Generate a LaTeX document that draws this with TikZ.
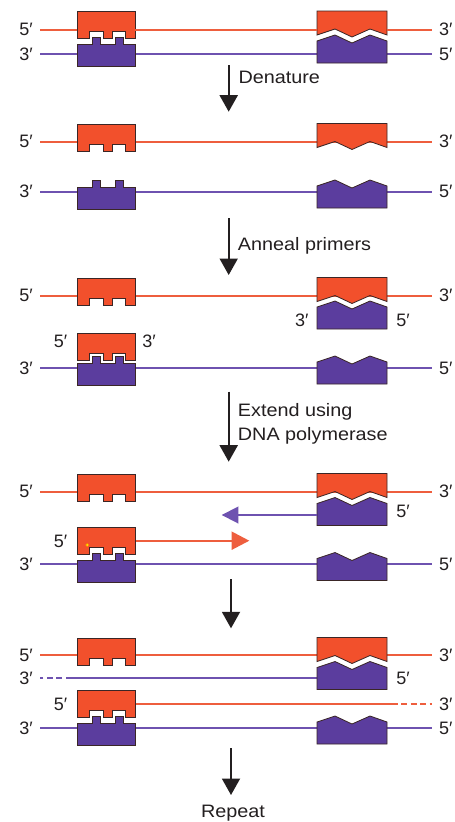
\documentclass[tikz,border=0pt]{standalone}
\usepackage{fontspec}
\setmainfont{Liberation Sans}
\usetikzlibrary{arrows.meta}
\definecolor{redf}{HTML}{F2502C}
\definecolor{purf}{HTML}{5B3D9E}
\definecolor{redl}{HTML}{EE5E3E}
\definecolor{purl}{HTML}{6E52B0}
\definecolor{edgec}{HTML}{3A2626}
\definecolor{txt}{HTML}{231F20}
\tikzset{
 blk/.style={draw=edgec, line width=0.8pt, line join=miter},
 rblk/.style={blk, fill=redf},
 pblk/.style={blk, fill=purf},
 rline/.style={draw=redl, line width=1.8pt},
 pline/.style={draw=purl, line width=1.8pt},
 dashline/.style={dash pattern=on 6pt off 3.5pt},
 lab/.style={inner sep=0pt, text=txt, font=\fontsize{18}{20}\selectfont},
 steptxt/.style={inner sep=0pt, text=txt, font=\fontsize{18}{24}\selectfont, xscale=1.1},
 flow/.style={draw=txt, line width=1.9pt, -{Triangle[width=18pt,length=16.5pt]}},
 redL/.pic={\path[rblk] (0,0) -- (58,0) -- (58,27) -- (48,27) -- (48,20) -- (35,20) -- (35,27) -- (26,27) -- (26,20) -- (12,20) -- (12,27) -- (0,27) -- cycle;},
 purL/.pic={\path[pblk] (0,0) -- (15,0) -- (15,-7) -- (23,-7) -- (23,0) -- (38,0) -- (38,-7) -- (46,-7) -- (46,0) -- (58,0) -- (58,22) -- (0,22) -- cycle;},
 redR/.pic={\path[rblk] (0,0) -- (70,0) -- (70,24) -- (53,18) -- (35,26) -- (18,18) -- (0,24) -- cycle;},
 purR/.pic={\path[pblk] (0,0) -- (18,-6) -- (35,2) -- (53,-6) -- (70,0) -- (70,22) -- (0,22) -- cycle;},
}
\begin{document}
\begin{tikzpicture}[x=1pt,y=-1pt]
\fill[white] (0,0) rectangle (455,822);
\useasboundingbox (0,0) rectangle (455,822);

% ---------- Row 1: double strand ----------
\draw[pline] (40,54) -- (431.5,54);
\pic at (77,11) {redL};
\pic at (77,44) {purL};
\pic at (317,11) {redR};
\pic at (317,41) {purR};
\draw[redl, line width=2pt] (40,30) -- (77,30);
\draw[redl, line width=2pt] (135,30) -- (317,30);
\draw[redl, line width=2pt] (387,30) -- (431.5,30);
\node[lab, anchor=east] (l1a) at (33,29.5) {5′};
\node[lab, anchor=east] (l1b) at (33,54) {3′};
\node[lab, anchor=west] (r1a) at (439,29.5) {3′};
\node[lab, anchor=west] (r1b) at (439,54) {5′};

% arrow 1
\coordinate (a1s) at (228.7,65);
\coordinate (a1e) at (228.7,111.7);
\draw[flow] (a1s) -- (a1e);
\node[steptxt, anchor=base west] (t1) at (238.3,83.3) {Denature};

% ---------- Row 2: separated strands ----------
\draw[rline] (40,141.7) -- (431.5,141.7);
\draw[pline] (40,191.7) -- (431.5,191.7);
\pic at (77,124) {redL};
\pic at (77,187.5) {purL};
\pic at (317,123.5) {redR};
\pic at (317,186) {purR};
\node[lab, anchor=east] (l2a) at (33,141.7) {5′};
\node[lab, anchor=east] (l2b) at (33,191.7) {3′};
\node[lab, anchor=west] (r2a) at (439,141.7) {3′};
\node[lab, anchor=west] (r2b) at (439,191.7) {5′};

% arrow 2
\coordinate (a2s) at (228.7,218);
\coordinate (a2e) at (228.7,275);
\draw[flow] (a2s) -- (a2e);
\node[steptxt, anchor=base west] (t2) at (237.7,250.7) {Anneal primers};

% ---------- Row 3: primers annealed ----------
\draw[rline] (40,295.7) -- (431.5,295.7);
\pic at (77,278) {redL};
\pic at (317,277.5) {redR};
\pic at (317,307) {purR};
\node[lab] (p3a) at (301.7,320) {3′};
\node[lab] (p3b) at (403,320) {5′};
\node[lab, anchor=east] (l3a) at (33,295.7) {5′};
\node[lab, anchor=west] (r3a) at (439,295.7) {3′};

\draw[pline] (40,368.3) -- (431.5,368.3);
\pic at (77,333.5) {redL};
\pic at (77,363.5) {purL};
\pic at (317,362) {purR};
\node[lab] (p3c) at (60.5,341.7) {5′};
\node[lab] (p3d) at (149,341.7) {3′};
\node[lab, anchor=east] (l3b) at (33,368.3) {3′};
\node[lab, anchor=west] (r3b) at (439,368.3) {5′};

% arrow 3
\coordinate (a3s) at (228.7,391.7);
\coordinate (a3e) at (228.7,461.7);
\draw[flow] (a3s) -- (a3e);
\node[steptxt, anchor=base west] (t3a) at (237.7,416) {Extend using};
\node[steptxt, anchor=base west] (t3b) at (237.7,440) {DNA polymerase};

% ---------- Row 4: extension ----------
\draw[rline] (40,491.7) -- (431.5,491.7);
\pic at (77,474) {redL};
\pic at (317,473.5) {redR};
\pic at (317,503.5) {purR};
\node[lab] (p4b) at (403,511.7) {5′};
\node[lab, anchor=east] (l4a) at (33,491.7) {5′};
\node[lab, anchor=west] (r4a) at (439,491.7) {3′};
\coordinate (pa4s) at (317,515);
\coordinate (pa4e) at (221.7,515);
\draw[pline, -{Triangle[width=16.7pt,length=16.7pt]}] (pa4s) -- (pa4e);

\coordinate (ra4s) at (135,540.7);
\coordinate (ra4e) at (249.3,540.7);
\draw[rline, -{Triangle[width=18pt,length=17.6pt]}] (ra4s) -- (ra4e);
\draw[pline] (40,564) -- (431.5,564);
\pic at (77,527) {redL};
\pic at (77,560) {purL};
\pic at (317,558.5) {purR};
\fill[yellow!90!orange, draw=orange, line width=0.4pt] (87.3,545) circle (1.6);
\node[lab] (p4c) at (60.5,541) {5′};
\node[lab, anchor=east] (l4b) at (33,564) {3′};
\node[lab, anchor=west] (r4b) at (439,564) {5′};

% arrow 4
\coordinate (a4s) at (231,579);
\coordinate (a4e) at (231,628.3);
\draw[flow] (a4s) -- (a4e);

% ---------- Row 5: new strands ----------
\draw[rline] (40,655) -- (431.5,655);
\pic at (77,638.5) {redL};
\pic at (317,637.5) {redR};
\draw[pline] (317,678.3) -- (71.7,678.3);
\draw[pline, dashline] (71.7,678.3) -- (40,678.3);
\pic at (317,667.5) {purR};
\node[lab] (p5b) at (403,678.3) {5′};
\node[lab, anchor=east] (l5a) at (33,655) {5′};
\node[lab, anchor=west] (r5a) at (439,655) {3′};
\node[lab, anchor=east] (l5b) at (33,678.3) {3′};

\draw[rline] (135,704) -- (391.7,704);
\draw[rline, dashline] (391.7,704) -- (431.5,704);
\draw[pline] (40,728.3) -- (431.5,728.3);
\pic at (77,690.5) {redL};
\pic at (77,723.5) {purL};
\pic at (317,722) {purR};
\node[lab] (p5c) at (60.5,704) {5′};
\node[lab, anchor=west] (r5c) at (439,704) {3′};
\node[lab, anchor=east] (l5c) at (33,728.3) {3′};
\node[lab, anchor=west] (r5d) at (439,728.3) {5′};

% arrow 5
\coordinate (a5s) at (231,748.3);
\coordinate (a5e) at (231,795);
\draw[flow] (a5s) -- (a5e);
\node[steptxt, anchor=base] (t5) at (233,817.3) {Repeat};
\end{tikzpicture}
\end{document}
